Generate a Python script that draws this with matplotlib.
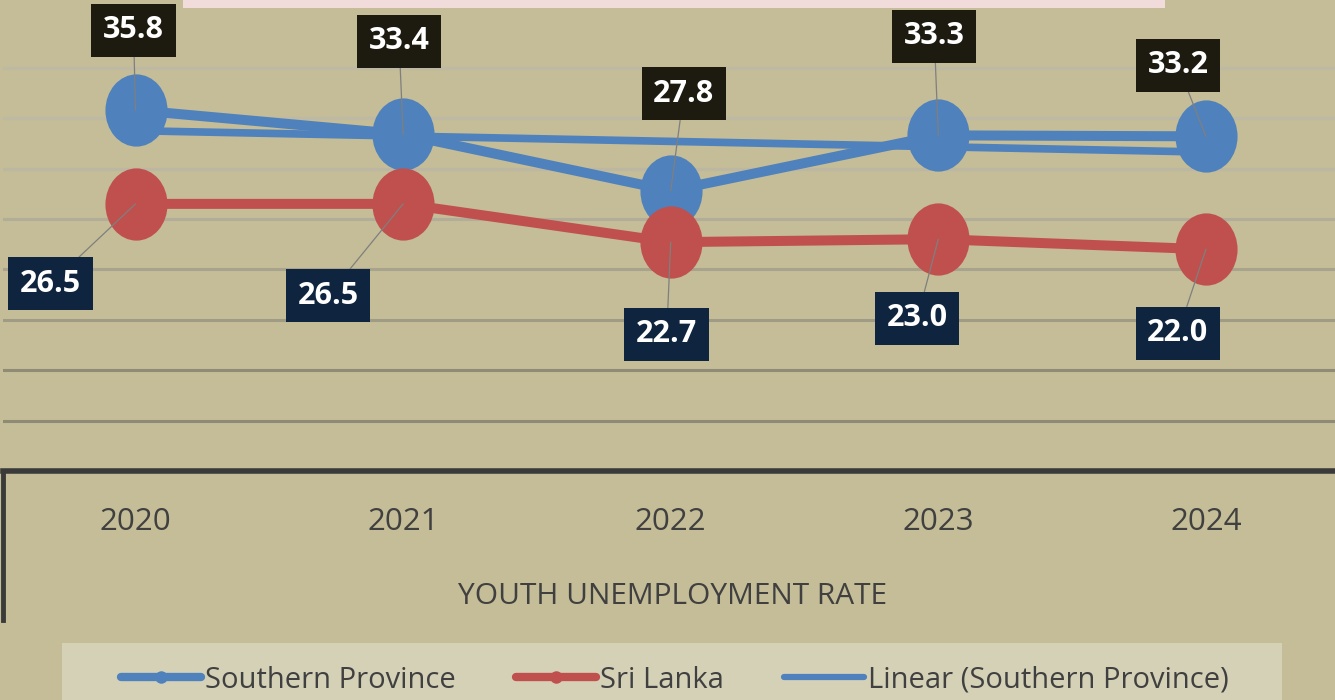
import numpy as np
import matplotlib
matplotlib.use("Agg")
import matplotlib.pyplot as plt
from matplotlib.path import Path
from matplotlib.lines import Line2D
from matplotlib.patches import Rectangle
from matplotlib import font_manager

# data
years = ["2020", "2021", "2022", "2023", "2024"]
southern = [35.8, 33.4, 27.8, 33.3, 33.2]
sri_lanka = [26.5, 26.5, 22.7, 23.0, 22.0]
grid_values = [5, 10, 15, 20, 25, 30, 35, 40]

# label box offsets (pixels from the point)
sp_offsets = [(-2, 80), (-4, 93), (13, 97), (-4, 99), (-28, 71)]
sl_offsets = [(-85, -80), (-75, -92), (-4, -92), (-21, -79), (-28, -84)]

BG = "#C4BD97"
BLUE = "#4F81BD"
RED = "#C0504D"
DARK = "#3A3A3A"

names = {f.name for f in font_manager.fontManager.ttflist}
if "Liberation Sans Narrow" in names:
    FONT = ["Liberation Sans Narrow", "DejaVu Sans"]
    fs_tick, fs_leg, fs_title, fs_lab = 27, 26, 25.5, 27
else:
    FONT = ["Open Sans", "DejaVu Sans"]
    fs_tick, fs_leg, fs_title, fs_lab = 22.5, 21, 21.5, 22
plt.rcParams["font.family"] = FONT

W, H = 1335, 700
fig = plt.figure(figsize=(W / 100, H / 100), dpi=100, facecolor=BG)

# axes placement in pixels: zero line at y=471, 10.08 px per unit
x0, dx = 135.5, 267.6
zero_y, per_unit = 471, 10.08
left_px = 3
ax = fig.add_axes([left_px / W, (H - zero_y) / H, (W - left_px) / W, zero_y / H])
ax.set_facecolor(BG)
ax.set_xlim((left_px - x0) / dx, (W - x0) / dx)
ax.set_ylim(0, zero_y / per_unit)

grid_colors = ["#8E8A74", "#908B75", "#A09B85", "#A8A38D", "#B2AD98", "#BCB7A3", "#BEB9A5", "#BEB9A5"]
for g, c in zip(grid_values, grid_colors):
    ax.axhline(g, color=c, lw=2.2, zorder=1)

x = np.arange(len(years))
ellipse = Path.unit_circle().transformed(matplotlib.transforms.Affine2D().scale(0.86, 1.0))

ax.plot(x, southern, color=BLUE, lw=7.2, marker=ellipse, ms=52, mew=0,
        solid_capstyle="round", zorder=3)
# linear trend of Southern Province
slope, intercept = np.polyfit(x, southern, 1)
ax.plot(x, slope * x + intercept, color=BLUE, lw=5.5, solid_capstyle="round", zorder=3)
ax.plot(x, sri_lanka, color=RED, lw=7.2, marker=ellipse, ms=52, mew=0,
        solid_capstyle="round", zorder=4)

def add_labels(vals, offsets, box_color):
    for i, (v, off) in enumerate(zip(vals, offsets)):
        ax.annotate(f"{v:.1f}", xy=(i, v), xytext=off, textcoords="offset pixels",
                    ha="center", va="center", color="white", fontsize=fs_lab,
                    fontweight="bold", zorder=6,
                    bbox=dict(boxstyle="square,pad=0.38", fc=box_color, ec="none"),
                    arrowprops=dict(arrowstyle="-", color="#7F7F7F", lw=0.9,
                                    shrinkA=0, shrinkB=0))

add_labels(southern, sp_offsets, "#1D1B10")
add_labels(sri_lanka, sl_offsets, "#0F243E")

for s in ["top", "right", "left"]:
    ax.spines[s].set_visible(False)
ax.spines["bottom"].set_color(DARK)
ax.spines["bottom"].set_linewidth(4)
ax.set_yticks([])
ax.set_xticks(x)
ax.set_xticklabels(years, fontsize=fs_tick, color="#404040")
ax.tick_params(axis="x", length=0, pad=26)
ax.set_xlabel("YOUTH UNEMPLOYMENT RATE", fontsize=fs_title, color="#404040", va="center")
ax.xaxis.set_label_coords(672 / W, (H - 597) / H, transform=fig.transFigure)

# left category axis edge
fig.add_artist(Line2D([left_px / W, left_px / W], [(H - 471) / H, (H - 620) / H],
                      color=DARK, lw=3.5, transform=fig.transFigure))

# cut-off title box at top
fig.add_artist(Rectangle((183 / W, (H - 8) / H), (1165 - 183) / W, 20 / H,
                         transform=fig.transFigure, fc="#F2DCDB", ec="none"))

# legend panel
fig.add_artist(Rectangle((62 / W, -20 / H), (1282 - 62) / W, (20 + 57) / H,
                         transform=fig.transFigure, fc="#D5D1B7", ec="none"))
handles = [Line2D([], [], color=BLUE, lw=6, marker="o", ms=9, mew=0, solid_capstyle="round"),
           Line2D([], [], color=RED, lw=6, marker="o", ms=9, mew=0, solid_capstyle="round"),
           Line2D([], [], color=BLUE, lw=4.5, solid_capstyle="round")]
leg = fig.legend(handles, ["Southern Province", "Sri Lanka", "Linear (Southern Province)"],
                 loc="center", bbox_to_anchor=(675 / W, (H - 680) / H), ncol=3,
                 frameon=False, fontsize=fs_leg, handlelength=2.75, handletextpad=0.14,
                 columnspacing=2.05, borderpad=0, labelcolor="#404040")

fig.savefig("out.png", dpi=100, facecolor=BG)
